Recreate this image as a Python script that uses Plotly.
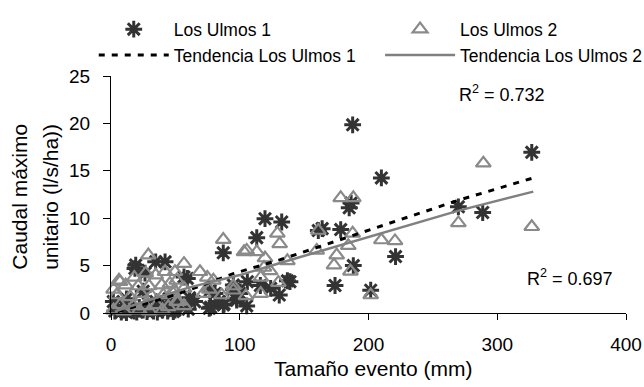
import plotly.graph_objects as go

# Los Ulmos 1 (asterisks)
u1_x = [1.8, 3, 5, 8, 10, 12, 15, 18, 20, 22, 25, 28, 30, 33, 36, 40, 44, 48.4, 49.7,
        12, 25, 35, 45, 52, 60, 65,
        19.2, 34.7, 42, 26.4, 18.6, 56.7, 59.3, 61, 77, 80.8, 77.4, 76.3, 84, 87.2, 87.8,
        87.2, 95, 95, 97.6, 97.6, 100, 105.4, 105.9, 113.2, 116, 119.6, 132.6, 124, 130.7,
        137, 139, 161, 164, 178.4, 185, 186.5, 187.7, 210, 188.2, 174, 201.7, 221,
        269.8, 288.7, 326.8]
u1_y = [1.2, 0.2, 0.5, 0.1, 0.3, 0.05, 0.4, 0.2, 0.1, 0.6, 0.3, 0.15, 0.5, 0.2, 0.1, 0.3, 0.2, 0.15, 0.3,
        1.5, 2.3, 1.2, 1.5, 1.0, 0.4, 1.2,
        5.05, 5.4, 5.4, 4.2, 4.7, 3.8, 3.65, 1.6, 2.4, 2.05, 0.6, 0.5, 1.2, 0.85, 0.95,
        6.35, 2.95, 2.5, 1.55, 1.35, 2.05, 0.75, 3.3, 7.95, 2.9, 9.95, 9.6, 2.6, 1.9,
        3.4, 3.3, 8.7, 8.9, 8.8, 11.1, 11.6, 19.85, 14.25, 5.0, 2.9, 2.4, 5.95,
        11.2, 10.6, 16.95]

# Los Ulmos 2 (triangles)
u2_x = [2, 7, 10, 17.3, 22, 26.4, 30, 35.5, 40, 44.5, 52.3, 56.7, 51,
        4.4, 14.8, 23.3, 31.6, 40.6, 48.4, 49, 56.7, 71.7, 76.3, 86, 104.8, 116.3, 95, 95,
        2, 6.2, 11.4, 21.2, 29.5, 39.4, 45.8, 51, 18.1, 27, 34.7, 42, 49.7, 29, 56.7,
        69.1, 74.8, 79.5, 87.2, 103.3, 105.4, 113.2, 119.6, 116.3, 123.5, 118.8, 130,
        137, 129.2, 131, 159.8, 161, 175.3, 173.2, 186, 184.3, 187.7, 178.4, 188.2,
        201.7, 210, 220.6, 269.8, 289.2, 326.8, 7]
u2_y = [0.3, 0.85, 0.2, 0.75, 0.3, 0.75, 0.2, 0.85, 0.3, 0.65, 1.2, 0.75, 1.2,
        1.9, 1.7, 2.05, 1.8, 1.9, 2.05, 2.4, 2.6, 2.05, 2.5, 1.9, 1.8, 2.05, 2.4, 2.85,
        2.5, 3.45, 2.95, 2.85, 2.85, 2.95, 3.1, 3.45, 3.75, 4.2, 4.0, 4.35, 4.35, 6.1, 5.2,
        4.35, 3.75, 3.45, 7.75, 6.45, 6.6, 6.45, 5.8, 3.75, 4.45, 4.8, 3.2,
        5.5, 8.4, 7.3, 6.6, 8.7, 6.1, 5.05, 4.4, 7.1, 8.4, 12.15, 12.15,
        1.9, 7.7, 7.6, 9.5, 15.8, 9.1, 3.3]

# Trend lines
t1_x = [5, 20, 40, 60, 95, 131, 200, 270, 328]
t1_y = [0.15, 0.7, 1.5, 2.4, 4.15, 5.6, 8.7, 11.9, 14.25]
t2_x = [3, 30, 61, 100, 147, 210, 270, 328]
t2_y = [0.15, 1.4, 2.7, 4.0, 5.9, 8.4, 10.8, 12.8]

x_ticks = [0, 100, 200, 300, 400]
y_ticks = [0, 5, 10, 15, 20, 25]

FONT = "Liberation Sans, Arial, sans-serif"

fig = go.Figure()
fig.add_trace(go.Scatter(
    x=u1_x, y=u1_y, mode="markers", name="Los Ulmos 1", cliponaxis=False, legend="legend",
    marker=dict(symbol="asterisk-open", size=14, color="#333333",
                line=dict(color="#333333", width=3))))
fig.add_trace(go.Scatter(
    x=u2_x, y=u2_y, mode="markers", name="Los Ulmos 2", cliponaxis=False, legend="legend2",
    marker=dict(symbol="triangle-up-open", size=13, color="#8a8a8a",
                line=dict(color="#8a8a8a", width=2.2))))
fig.add_trace(go.Scatter(
    x=t1_x, y=t1_y, mode="lines", name="Tendencia Los Ulmos 1", legend="legend",
    line=dict(color="black", width=3, dash="6px,7px")))
fig.add_trace(go.Scatter(
    x=t2_x, y=t2_y, mode="lines", name="Tendencia Los Ulmos 2", legend="legend2",
    line=dict(color="#808080", width=2.5)))

ann_font = dict(size=18, color="black", family=FONT)
fig.add_annotation(x=0.759, y=0.928, xref="paper", yref="paper", showarrow=False,
                   xanchor="center", yanchor="middle",
                   text="R<sup>2</sup> = 0.732", font=ann_font)
fig.add_annotation(x=0.891, y=0.148, xref="paper", yref="paper", showarrow=False,
                   xanchor="center", yanchor="middle",
                   text="R<sup>2</sup> = 0.697", font=ann_font)

title_font = dict(size=21, color="black", family=FONT)
fig.add_annotation(x=-0.1775, y=0.489, xref="paper", yref="paper", showarrow=False,
                   xanchor="center", yanchor="middle",
                   text="Caudal máximo", textangle=-90, font=title_font)
fig.add_annotation(x=-0.119, y=0.489, xref="paper", yref="paper", showarrow=False,
                   xanchor="center", yanchor="middle",
                   text="unitario (l/s/ha))", textangle=-90, font=title_font)
fig.add_annotation(x=0.509, y=-0.236, xref="paper", yref="paper", showarrow=False,
                   xanchor="center", yanchor="middle",
                   text="Tamaño evento (mm)", font=title_font)

leg_common = dict(orientation="v", xanchor="left", yanchor="top", itemwidth=70,
                  font=dict(size=17.5, family=FONT), bgcolor="rgba(0,0,0,0)",
                  tracegroupgap=0, traceorder="normal")

fig.update_layout(
    width=644, height=387,
    margin=dict(l=111, r=18, t=76, b=74, autoexpand=False),
    paper_bgcolor="white", plot_bgcolor="white",
    font=dict(family=FONT, size=19, color="black"),
    showlegend=True,
    legend=dict(x=-0.0335, y=1.273, **leg_common),
    legend2=dict(x=0.5225, y=1.273, **leg_common),
    xaxis=dict(range=[0, 400], tickvals=x_ticks,
               showline=True, linecolor="black", linewidth=1,
               ticks="outside", ticklen=6, tickcolor="black", ticklabelstandoff=8,
               showgrid=False, zeroline=False, automargin=False),
    yaxis=dict(range=[0, 25], tickvals=y_ticks,
               showline=True, linecolor="black", linewidth=1,
               ticks="outside", ticklen=7, tickcolor="black", ticklabelstandoff=9,
               showgrid=False, zeroline=False, automargin=False),
)

fig.write_html(
    "out.html",
    config={"displayModeBar": False},
    post_script=("document.documentElement.style.margin='0';"
                 "document.body.style.margin='0';"
                 "document.body.style.overflow='hidden';"
                 "document.documentElement.style.overflow='hidden';"),
)
